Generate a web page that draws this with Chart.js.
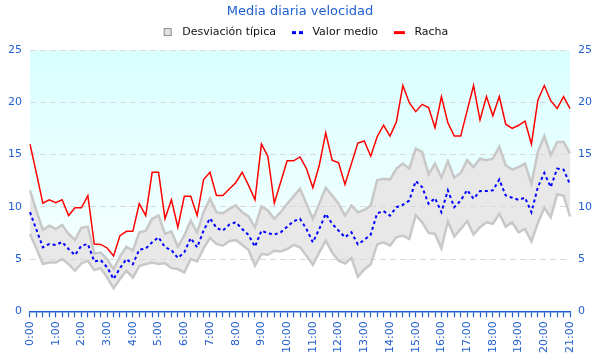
<!DOCTYPE html>
<html><head><meta charset="utf-8">
<script src="https://cdn.jsdelivr.net/npm/chart.js@4"></script>
<style>html,body{margin:0;padding:0;background:#fff}</style>
</head><body>
<canvas id="c" width="600" height="360"></canvas>
<script>
const times = ['0:00','0:15','0:30','0:45','1:00','1:15','1:30','1:45','2:00','2:15','2:30','2:45','3:00','3:15','3:30','3:45','4:00','4:15','4:30','4:45','5:00','5:15','5:30','5:45','6:00','6:15','6:30','6:45','7:00','7:15','7:30','7:45','8:00','8:15','8:30','8:45','9:00','9:15','9:30','9:45','10:00','10:15','10:30','10:45','11:00','11:15','11:30','11:45','12:00','12:15','12:30','12:45','13:00','13:15','13:30','13:45','14:00','14:15','14:30','14:45','15:00','15:15','15:30','15:45','16:00','16:15','16:30','16:45','17:00','17:15','17:30','17:45','18:00','18:15','18:30','18:45','19:00','19:15','19:30','19:45','20:00','20:15','20:30','20:45','21:00'];
const hourLabels = ['0:00','1:00','2:00','3:00','4:00','5:00','6:00','7:00','8:00','9:00','10:00','11:00','12:00','13:00','14:00','15:00','16:00','17:00','18:00','19:00','20:00','21:00'];
const yTicks = [0,5,10,15,20,25];

const gust = [16.0,13.2,10.35,10.67,10.4,10.67,9.16,9.9,9.9,11.06,6.44,6.4,6.06,5.3,7.24,7.65,7.65,10.3,9.16,13.3,13.3,8.85,10.67,8.04,11.0,11.0,9.16,12.6,13.3,11.08,11.08,11.7,12.3,13.3,12.05,10.67,16.0,14.84,10.35,12.37,14.4,14.4,14.77,13.65,11.83,13.97,17.08,14.45,14.2,12.14,14.13,16.1,16.3,14.84,16.7,17.8,16.76,18.14,21.6,19.96,19.1,19.8,19.5,17.56,20.54,18.04,16.76,16.76,19.2,21.6,18.3,20.54,18.7,20.54,17.9,17.5,17.8,18.2,16.0,20.2,21.6,20.15,19.4,20.54,19.4];

const meanSpeed = [9.48,7.8,6.12,6.44,6.35,6.63,5.96,5.38,6.28,6.44,4.77,4.9,4.2,3.08,4.13,5.0,4.5,5.9,6.0,6.6,7.08,6.12,5.86,5.1,5.63,7.0,6.12,7.72,8.9,7.98,7.72,8.3,8.52,7.88,7.3,6.18,7.72,7.46,7.34,7.56,8.1,8.62,8.85,7.88,6.6,7.88,9.33,8.37,7.72,7.08,7.56,6.4,6.83,7.34,9.38,9.58,9.16,9.96,10.19,10.6,12.46,11.88,10.29,10.83,9.48,11.57,9.96,10.6,11.6,10.77,11.5,11.5,11.57,12.6,11.08,10.87,10.67,10.87,9.48,11.88,13.23,11.88,13.65,13.56,12.14];

const stdUpper = [11.57,9.6,7.79,8.2,7.88,8.27,7.4,6.83,7.98,8.1,5.54,5.63,5.0,4.04,5.22,6.18,5.8,7.56,7.72,8.85,9.16,7.4,7.65,6.18,7.24,8.68,7.56,9.48,10.77,9.48,9.38,9.8,10.13,9.48,9.08,8.04,10.03,9.64,8.85,9.48,10.29,11.0,11.73,10.29,8.85,10.29,11.83,11.08,10.29,9.16,10.13,9.48,9.7,10.13,12.53,12.69,12.6,13.65,14.13,13.65,15.58,15.25,13.1,14.13,12.79,14.36,12.79,13.23,14.45,13.8,14.6,14.45,14.6,15.73,13.97,13.56,13.8,14.13,12.2,15.25,16.76,14.93,16.2,16.2,15.1];

const stdLower = [7.4,6.0,4.52,4.67,4.67,5.0,4.52,3.88,4.58,4.84,3.94,4.13,3.23,2.21,3.08,3.88,3.23,4.33,4.52,4.67,4.52,4.6,4.13,4.04,3.71,5.0,4.77,6.02,7.02,6.44,6.28,6.7,6.83,6.37,5.86,4.36,5.48,5.41,5.8,5.73,5.96,6.35,6.12,5.32,4.45,5.63,6.76,5.63,4.84,4.58,5.1,3.3,4.0,4.5,6.4,6.6,6.28,7.08,7.24,6.92,9.2,8.5,7.5,7.4,6.02,8.62,7.15,7.88,8.62,7.34,8.04,8.52,8.37,9.33,8.1,8.52,7.56,7.88,6.7,8.43,9.9,9.0,11.18,11.08,9.07];

const BLUE = '#1f5fcf';
const FONT = 'DejaVu Sans';
const tickFont = {family: FONT, size: 11};

function cyanFill(ctx) {
  const a = ctx.chart.chartArea;
  if (!a) return '#e8ffff';
  const g = ctx.chart.ctx.createLinearGradient(0, a.top, 0, a.bottom);
  g.addColorStop(0, '#d9ffff');
  g.addColorStop(1, '#fbffff');
  return g;
}

// legend markers (small canvases; marker sits at the right of a 25px slot)
function marker(kind) {
  const c = document.createElement('canvas');
  c.width = 25; c.height = 10;
  const g = c.getContext('2d');
  if (kind === 'box') {
    g.fillStyle = '#e2e2e2'; g.fillRect(12, 1, 8, 8);
    g.strokeStyle = '#8a8a8a'; g.lineWidth = 1; g.strokeRect(12.5, 1.5, 7, 7);
  } else if (kind === 'dash') {
    g.fillStyle = '#0000ff'; g.fillRect(10, 4, 4, 3); g.fillRect(17, 4, 4, 3);
  } else {
    g.fillStyle = '#ff0000'; g.fillRect(10, 4, 11, 3);
  }
  return c;
}

new Chart(document.getElementById('c').getContext('2d'), {
  type: 'line',
  data: {
    labels: times,
    datasets: [
      {label: 'Desviación típica', data: stdUpper, borderColor: '#c8c8c8', borderWidth: 2.5, backgroundColor: '#e8e8e8', fill: '+1', pointRadius: 0, tension: 0, order: 3, yAxisID: 'y'},
      {label: '_lower', data: stdLower, borderColor: '#c8c8c8', borderWidth: 2.5, backgroundColor: cyanFill, fill: 'end', pointRadius: 0, tension: 0, order: 3, yAxisID: 'y'},
      {label: 'Valor medio', data: meanSpeed, borderColor: '#0000ff', borderWidth: 2, borderDash: [3, 3], fill: false, pointRadius: 0, tension: 0, order: 1, yAxisID: 'y'},
      {label: 'Racha', data: gust, borderColor: '#ff0000', borderWidth: 1.5, fill: false, pointRadius: 0, tension: 0, order: 2, yAxisID: 'y'}
    ]
  },
  options: {
    responsive: false,
    animation: false,
    layout: {padding: {left: 0, right: 0, top: 0, bottom: 3}},
    plugins: {
      filler: {drawTime: 'beforeDraw'},
      tooltip: {enabled: false},
      title: {display: true, text: 'Media diaria velocidad', color: BLUE, font: {family: FONT, size: 13, weight: 'normal'}, padding: {top: 4, bottom: 1}},
      subtitle: {display: true, text: '', weight: 500, font: {family: FONT, size: 2}, padding: 0},
      legend: {
        labels: {
          usePointStyle: true, pointStyleWidth: 25, boxHeight: 10, padding: 6, color: '#111',
          font: {family: FONT, size: 11},
          generateLabels: () => [
            {text: 'Desviación típica', datasetIndex: 0, hidden: false, fillStyle: '#e2e2e2', strokeStyle: '#8a8a8a', lineWidth: 0, lineDash: [], pointStyle: marker('box'), fontColor: '#111'},
            {text: 'Valor medio', datasetIndex: 2, hidden: false, fillStyle: '#0000ff', strokeStyle: '#0000ff', lineWidth: 0, lineDash: [], pointStyle: marker('dash'), fontColor: '#111'},
            {text: 'Racha', datasetIndex: 3, hidden: false, fillStyle: '#ff0000', strokeStyle: '#ff0000', lineWidth: 0, lineDash: [], pointStyle: marker('line'), fontColor: '#111'}
          ]
        }
      }
    },
    scales: {
      x: {
        ticks: {autoSkip: false, minRotation: 90, maxRotation: 90, padding: 4, color: BLUE, font: tickFont,
          callback: (v, i) => hourLabels.includes(times[i]) ? times[i] : ''},
        grid: {drawOnChartArea: false, drawTicks: true, tickLength: 6, tickColor: BLUE, tickWidth: 1.2},
        border: {color: BLUE, width: 1.5}
      },
      y: {
        position: 'left', min: 0, max: 25,
        afterBuildTicks: s => { s.ticks = yTicks.map(v => ({value: v})); },
        ticks: {padding: 8, color: BLUE, font: tickFont},
        grid: {drawTicks: false, color: c => (c.tick && c.tick.value === 0) ? 'rgba(0,0,0,0)' : '#d9d9d9', lineWidth: 1},
        border: {display: false, dash: [6, 4]}
      },
      y2: {
        position: 'right', min: 0, max: 25,
        afterBuildTicks: s => { s.ticks = yTicks.map(v => ({value: v})); },
        ticks: {padding: 8, color: BLUE, font: tickFont},
        grid: {drawOnChartArea: false, drawTicks: false},
        border: {display: false}
      }
    }
  }
});
</script>
</body></html>
